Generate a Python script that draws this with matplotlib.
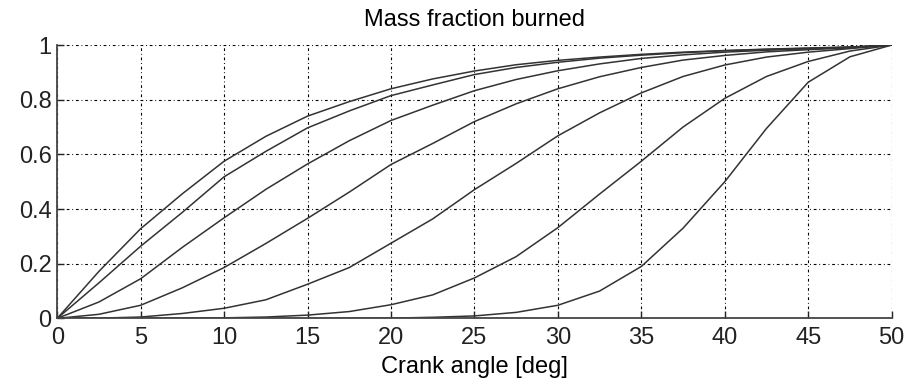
import matplotlib
matplotlib.use("Agg")
import matplotlib.pyplot as plt

plt.rcParams['font.family'] = ['Liberation Sans', 'DejaVu Sans']

# crank angle samples [deg]
crank_angle = [0, 2.5, 5, 7.5, 10, 12.5, 15, 17.5, 20, 22.5, 25,
               27.5, 30, 32.5, 35, 37.5, 40, 42.5, 45, 47.5, 50]

# mass fraction burned, one list per curve (fastest to slowest)
mfb_1 = [0, 0.172, 0.328, 0.456, 0.575, 0.666, 0.740, 0.793, 0.840, 0.876, 0.905,
         0.928, 0.944, 0.956, 0.966, 0.974, 0.980, 0.985, 0.989, 0.993, 1.0]
mfb_2 = [0, 0.130, 0.264, 0.388, 0.518, 0.611, 0.697, 0.759, 0.815, 0.854, 0.892,
         0.918, 0.937, 0.952, 0.963, 0.972, 0.979, 0.984, 0.988, 0.992, 1.0]
mfb_3 = [0, 0.060, 0.145, 0.260, 0.368, 0.472, 0.565, 0.650, 0.724, 0.780, 0.833,
         0.874, 0.906, 0.931, 0.951, 0.964, 0.974, 0.981, 0.986, 0.991, 1.0]
mfb_4 = [0, 0.015, 0.048, 0.112, 0.186, 0.274, 0.366, 0.462, 0.563, 0.640, 0.720,
         0.785, 0.840, 0.884, 0.918, 0.945, 0.962, 0.975, 0.983, 0.990, 1.0]
mfb_5 = [0, 0.001, 0.005, 0.018, 0.037, 0.068, 0.125, 0.186, 0.275, 0.364, 0.471,
         0.567, 0.668, 0.752, 0.825, 0.885, 0.927, 0.956, 0.974, 0.987, 1.0]
mfb_6 = [0, 0, 0, 0.0004, 0.002, 0.005, 0.012, 0.025, 0.050, 0.086, 0.148,
         0.226, 0.332, 0.455, 0.575, 0.700, 0.805, 0.885, 0.940, 0.978, 1.0]
mfb_7 = [0, 0, 0, 0, 0, 0, 0, 0, 0.001, 0.004, 0.009,
         0.022, 0.048, 0.100, 0.190, 0.330, 0.500, 0.695, 0.864, 0.957, 1.0]

curves = [mfb_1, mfb_2, mfb_3, mfb_4, mfb_5, mfb_6, mfb_7]

x_ticks = [0, 5, 10, 15, 20, 25, 30, 35, 40, 45, 50]
y_ticks = [0, 0.2, 0.4, 0.6, 0.8, 1.0]
y_tick_labels = ["0", "0.2", "0.4", "0.6", "0.8", "1"]

fig = plt.figure(figsize=(9.08, 3.85), dpi=100)
ax = fig.add_axes([0.063, 0.173, 0.919, 0.71])

for y in curves:
    ax.plot(crank_angle, y, color="#333333", lw=1.1,
            solid_joinstyle="round", solid_capstyle="round")

ax.set_xlim(0, 50)
ax.set_ylim(0, 1)
ax.set_xticks(x_ticks)
ax.set_yticks(y_ticks)
ax.set_yticklabels(y_tick_labels)

ax.grid(True, color="black", lw=0.8, linestyle=(0, (2.5, 2.5, 0.8, 2.5)))
ax.set_axisbelow(True)

for side in ("top", "right"):
    ax.spines[side].set_visible(False)
for side in ("left", "bottom"):
    ax.spines[side].set_color("#444444")
    ax.spines[side].set_linewidth(1.3)

ax.tick_params(direction="in", length=5, width=1.0, labelsize=17,
               colors="#222222")
ax.tick_params(axis="x", pad=6)
ax.tick_params(axis="y", pad=4)

ax.set_title("Mass fraction burned", fontsize=17, pad=14)
ax.set_xlabel("Crank angle [deg]", fontsize=17, labelpad=5)

fig.savefig("out.png", dpi=100)
plt.close(fig)
